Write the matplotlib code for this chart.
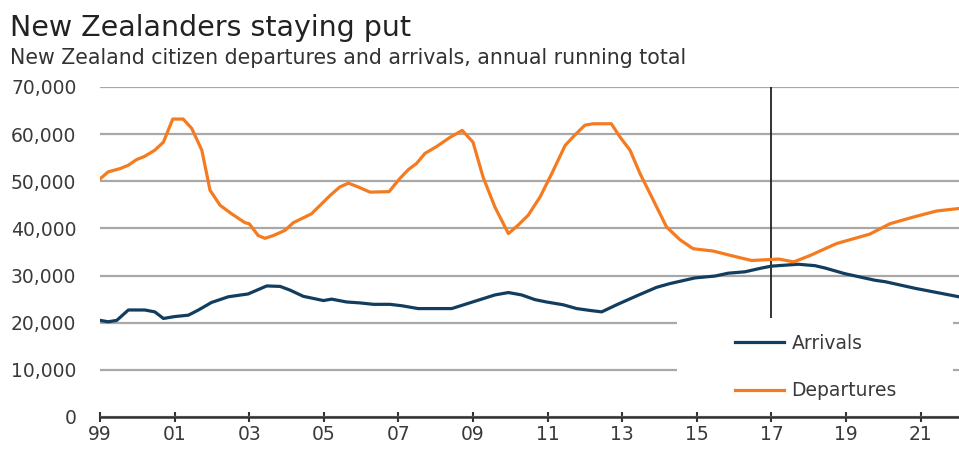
import matplotlib
matplotlib.use("Agg")
import matplotlib.pyplot as plt
from matplotlib.patches import Rectangle

# (fractional years, people per year)
dep_years = [1999.0, 1999.22, 1999.54, 1999.76, 1999.98, 2000.2, 2000.47, 2000.7, 2000.95,
             2001.23, 2001.46, 2001.73, 2001.95, 2002.22, 2002.53, 2002.89, 2003.0, 2003.24,
             2003.42, 2003.65, 2003.96, 2004.18, 2004.67, 2005.17, 2005.43, 2005.66, 2005.92,
             2006.24, 2006.75, 2007.04, 2007.27, 2007.49, 2007.71, 2008.03, 2008.38, 2008.71,
             2009.0, 2009.27, 2009.59, 2009.95, 2010.21, 2010.48, 2010.8, 2011.11, 2011.47,
             2011.73, 2012.0, 2012.22, 2012.71, 2012.94, 2013.21, 2013.48, 2013.79, 2014.19,
             2014.55, 2014.9, 2015.44, 2015.89, 2016.47, 2016.96, 2017.2, 2017.6, 2018.05,
             2018.44, 2018.75, 2019.64, 2020.18, 2020.8, 2021.43, 2022.0]
departures = [50500, 52000, 52700, 53400, 54600, 55300, 56600, 58300, 63200,
              63200, 61200, 56600, 48100, 44900, 43100, 41200, 41000, 38500,
              37900, 38500, 39600, 41200, 43100, 47000, 48800, 49600, 48800,
              47700, 47800, 50600, 52500, 53800, 55900, 57400, 59300, 60800,
              58300, 50900, 44500, 38900, 40700, 42800, 46700, 51600, 57600,
              59800, 61900, 62200, 62200, 59400, 56600, 51600, 46700, 40300,
              37600, 35700, 35200, 34300, 33200, 33400, 33500, 32900, 34300,
              35700, 36800, 38800, 41000, 42400, 43700, 44200]

arr_years = [1999.0, 1999.22, 1999.45, 1999.76, 2000.2, 2000.47, 2000.7, 2001.0, 2001.37,
             2001.64, 2001.99, 2002.44, 2002.97, 2003.47, 2003.83, 2004.1, 2004.45, 2004.99,
             2005.21, 2005.61, 2005.97, 2006.33, 2006.77, 2007.09, 2007.53, 2008.43, 2008.79,
             2009.23, 2009.59, 2009.95, 2010.3, 2010.66, 2010.97, 2011.42, 2011.78, 2012.14,
             2012.45, 2012.85, 2013.39, 2013.92, 2014.28, 2014.95, 2015.49, 2015.84, 2016.29,
             2016.74, 2017.0, 2017.72, 2018.17, 2018.44, 2018.97, 2019.78, 2020.05, 2020.85,
             2021.57, 2022.03]
arrivals = [20500, 20200, 20500, 22700, 22700, 22300, 20900, 21300, 21600,
            22700, 24300, 25500, 26100, 27800, 27700, 26900, 25600, 24700,
            25000, 24400, 24200, 23900, 23900, 23600, 23000, 23000, 23900,
            25000, 25900, 26400, 25900, 24900, 24400, 23800, 23000, 22600,
            22300, 23800, 25700, 27500, 28300, 29500, 29900, 30500, 30800,
            31600, 32000, 32400, 32100, 31600, 30400, 29000, 28700, 27300,
            26200, 25500]

tick_years = list(range(1999, 2022, 2))
y_ticks = list(range(0, 70001, 10000))
marker_year = 2017

plt.rcParams['font.family'] = ['DejaVu Sans']

fig = plt.figure(figsize=(9.59, 4.5), dpi=100)
ax = fig.add_axes([100 / 959, 33 / 450, 859 / 959, 330 / 450])

navy = '#123d5e'
orange = '#f47b20'

ax.plot(arr_years, arrivals, color=navy, lw=2.3, label='Arrivals', zorder=4)
ax.plot(dep_years, departures, color=orange, lw=2.3, label='Departures', zorder=4)
ax.vlines(marker_year, 21000, 70000, color='#222222', lw=1.3, zorder=3)

ax.set_xlim(1999, 2022.03)
ax.set_ylim(0, 70000)
ax.set_yticks(y_ticks)
ax.set_yticklabels([f"{v:,}" for v in y_ticks])
ax.set_xticks(tick_years)
ax.set_xticklabels([f"{y % 100:02d}" for y in tick_years])

ax.grid(axis='y', color='#a8a8a8', lw=1.6, zorder=1)
ax.set_axisbelow(True)
for s in ['top', 'right', 'left']:
    ax.spines[s].set_visible(False)
ax.spines['bottom'].set_color('#333333')
ax.spines['bottom'].set_linewidth(1.8)
ax.spines['bottom'].set_zorder(5)
ax.tick_params(axis='y', length=0, labelsize=13.5, colors='#3a3a3a', pad=17)
ax.tick_params(axis='x', direction='inout', length=7, width=1.5, color='#333333',
               labelsize=13.5, labelcolor='#3a3a3a', pad=2)

# white panel behind the legend that hides the grid lines
ax.add_patch(Rectangle((577 / 859, 0.02), 276 / 859, 0.28,
                       transform=ax.transAxes, facecolor='white', edgecolor='none', zorder=2))
leg = ax.legend(loc='lower left', bbox_to_anchor=(0.72, 0.0), frameon=False,
                fontsize=13.5, handlelength=2.6, handletextpad=0.4, labelspacing=1.5)
for t in leg.get_texts():
    t.set_color('#3a3a3a')

fig.text(10 / 959, 1 - 36 / 450, 'New Zealanders staying put', fontsize=20.5, color='#222222')
fig.text(10 / 959, 1 - 64 / 450, 'New Zealand citizen departures and arrivals, annual running total',
         fontsize=14.8, color='#333333')

fig.savefig('out.png', dpi=100)
